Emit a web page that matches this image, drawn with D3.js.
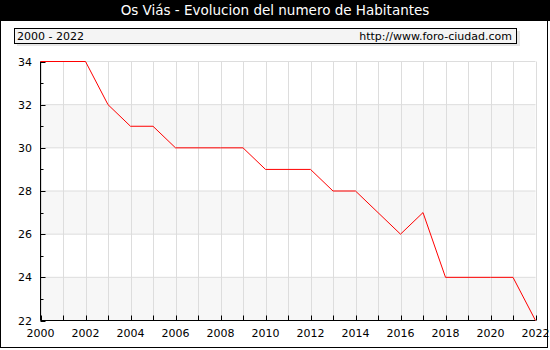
<!DOCTYPE html>
<html><head><meta charset="utf-8">
<script src="https://cdn.jsdelivr.net/npm/d3@7"></script>
<style>body{margin:0;background:#fff}svg{display:block}text{font-family:"DejaVu Sans",Verdana,sans-serif}</style>
</head><body>
<script>
const years = [2000,2001,2002,2003,2004,2005,2006,2007,2008,2009,2010,2011,2012,2013,2014,2015,2016,2017,2018,2019,2020,2021,2022];
const population = [34,34,34,32,31,31,30,30,30,30,29,29,29,28,28,27,26,27,24,24,24,24,22];
const yTicks = [22,24,26,28,30,32,34];
const xTicks = [2000,2002,2004,2006,2008,2010,2012,2014,2016,2018,2020,2022];
const title = "Os Viás - Evolucion del numero de Habitantes";
const rangeLabel = "2000 - 2022";
const siteLabel = "http://www.foro-ciudad.com";

(function () {
const W = 550, H = 350;
const svg = d3.select("body").append("svg").attr("width", W).attr("height", H);
const pL = 40.5, pR = 535.5, pT = 61.5, pB = 320.5;
const x = d3.scaleLinear().domain([2000, 2022]).range([pL, pR]);
const y = d3.scaleLinear().domain([22, 34]).range([pB, pT]);

// outer frame
svg.append("rect").attr("x", 0.5).attr("y", 0.5).attr("width", W - 3).attr("height", H - 3).attr("fill", "#fff").attr("stroke", "#000");
// title bar
svg.append("rect").attr("x", 0).attr("y", 0).attr("width", W).attr("height", 21).attr("fill", "#000");
svg.append("text").attr("x", W / 2).attr("y", 15).attr("text-anchor", "middle").attr("fill", "#fff").attr("font-size", 13.5).text(title);

// info box with shadow
svg.append("rect").attr("x", 17).attr("y", 31).attr("width", 503).attr("height", 15).attr("fill", "#e6e6e6");
svg.append("rect").attr("x", 14.5).attr("y", 28.5).attr("width", 502).attr("height", 15).attr("fill", "#f4f4f4").attr("stroke", "#000");
svg.append("text").attr("x", 17).attr("y", 40).attr("font-size", 11).text(rangeLabel);
svg.append("text").attr("x", 512).attr("y", 40).attr("text-anchor", "end").attr("font-size", 11).text(siteLabel);

// bands
const bands = d3.range(22, 34, 2);
svg.selectAll("rect.band").data(bands).enter().append("rect").attr("class", "band")
  .attr("x", pL).attr("width", pR - pL)
  .attr("y", d => y(d + 2)).attr("height", d => y(d) - y(d + 2))
  .attr("fill", d => ((d - 22) / 2) % 2 === 0 ? "#f7f7f7" : "#fff");

// grid
svg.selectAll("line.vg").data(years).enter().append("line")
  .attr("x1", d => Math.round(x(d)) + 0.5).attr("x2", d => Math.round(x(d)) + 0.5)
  .attr("y1", pT).attr("y2", pB).attr("stroke", "#ddd");
svg.selectAll("line.hg").data(yTicks).enter().append("line")
  .attr("x1", pL).attr("x2", pR).attr("y1", d => y(d)).attr("y2", d => y(d)).attr("stroke", "#ddd");

// axes
const yMinor = d3.range(22, 35, 1);
svg.append("line").attr("x1", pL).attr("x2", pL).attr("y1", pT).attr("y2", pB).attr("stroke", "#000");
svg.append("line").attr("x1", pL).attr("x2", pR).attr("y1", pB).attr("y2", pB).attr("stroke", "#000");
svg.selectAll("line.yt").data(yMinor).enter().append("line")
  .attr("x1", pL).attr("x2", d => d % 2 === 0 ? pL + 5 : pL + 3)
  .attr("y1", d => Math.round(y(d)) + 0.5).attr("y2", d => Math.round(y(d)) + 0.5).attr("stroke", "#000");
svg.selectAll("line.xt").data(years).enter().append("line")
  .attr("x1", d => Math.round(x(d)) + 0.5).attr("x2", d => Math.round(x(d)) + 0.5)
  .attr("y1", pB).attr("y2", pB - 5).attr("stroke", "#000");
svg.selectAll("text.yl").data(yTicks).enter().append("text")
  .attr("x", 32).attr("y", d => y(d) + 4).attr("text-anchor", "end").attr("font-size", 11).text(d => d);
svg.selectAll("text.xl").data(xTicks).enter().append("text")
  .attr("x", d => x(d)).attr("y", 337).attr("text-anchor", "middle").attr("font-size", 11).text(d => d);

// line
const line = d3.line().x((d, i) => x(years[i])).y(d => y(d));
svg.append("path").datum(population).attr("d", line).attr("fill", "none").attr("stroke", "#f00").attr("stroke-width", 1);
})();
</script>
</body></html>
